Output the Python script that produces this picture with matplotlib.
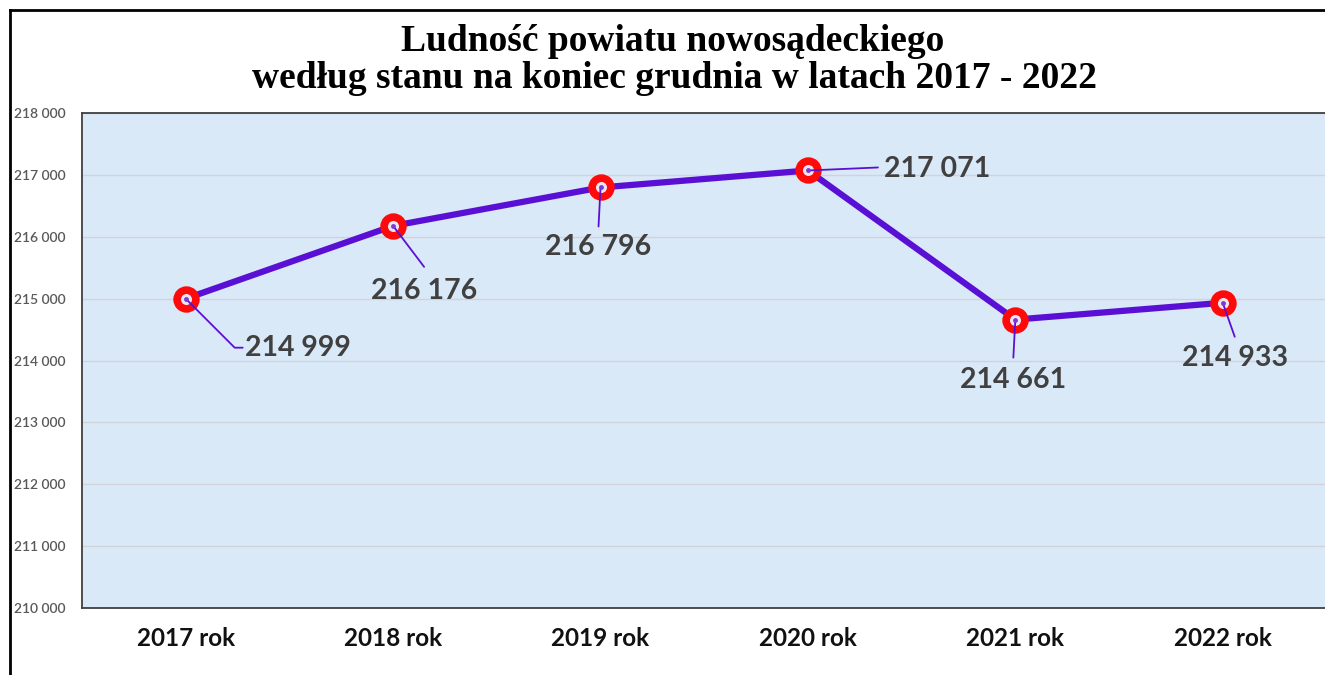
import matplotlib
matplotlib.use("Agg")
import matplotlib.pyplot as plt
from matplotlib.lines import Line2D
from matplotlib.ticker import FuncFormatter

# ---- data ----
categories = ["2017 rok", "2018 rok", "2019 rok", "2020 rok", "2021 rok", "2022 rok"]
population = [214999, 216176, 216796, 217071, 214661, 214933]
title_lines = ["Ludność powiatu nowosądeckiego",
               "według stanu na koniec grudnia w latach 2017 - 2022"]
y_ticks = [210000, 211000, 212000, 213000, 214000, 215000, 216000, 217000, 218000]

# ---- layout of data labels (pixel offsets from point) ----
leader_ends = [(57, -49), (31, -41), (-2, -39), (70, 3), (-2, -38), (12, -34)]
text_offsets = [(59, -49), (31, -65), (-2, -60), (76, 1), (-2, -60), (12, -55)]
text_ha = ["left", "center", "center", "left", "center", "center"]

W, H = 1325, 675
fig = plt.figure(figsize=(W / 100, H / 100), dpi=100)
fig.patch.set_facecolor("white")

ax = fig.add_axes([82 / W, 1 - 608 / H, (W - 82) / W, (608 - 113) / H])
ax.set_facecolor("#DAE9F8")

x = list(range(len(categories)))
ax.plot(x, population, color="#5A10D4", lw=4.5, zorder=3, solid_capstyle="round")
ax.plot(x, population, ls="none", marker="o", ms=13.5, mew=5.5,
        mec="#FF0A0A", mfc="#ECE4F2", zorder=4)
ax.plot(x, population, ls="none", marker="o", ms=3.5, mew=0,
        mfc="#7A3AD8", zorder=5)

def fmt(v):
    return f"{int(v):,}".replace(",", " ")

for i, (xi, yi) in enumerate(zip(x, population)):
    le = leader_ends[i]
    if i == 0:
        ax.annotate("", xy=(xi, yi), xytext=le, textcoords="offset pixels",
                    arrowprops=dict(arrowstyle="-", color="#5A10D4", lw=1.3,
                                    shrinkA=0, shrinkB=0,
                                    connectionstyle="angle,angleA=0,angleB=-45,rad=0"),
                    zorder=4)
    else:
        ax.annotate("", xy=(xi, yi), xytext=le, textcoords="offset pixels",
                    arrowprops=dict(arrowstyle="-", color="#5A10D4", lw=1.3,
                                    shrinkA=0, shrinkB=0),
                    zorder=4)
    ax.annotate(fmt(yi), xy=(xi, yi), xytext=text_offsets[i],
                textcoords="offset pixels", ha=text_ha[i], va="center",
                fontsize=20.5, fontweight="bold", family="Lato", color="#404040",
                zorder=6)

ax.set_xlim(-0.5, 5.493)
ax.set_ylim(210000, 218000)
ax.set_yticks(y_ticks)
ax.yaxis.set_major_formatter(FuncFormatter(lambda v, p: fmt(v)))
ax.set_xticks(x)
ax.set_xticklabels(categories)
ax.grid(axis="y", color="#D2D2DA", lw=1.0, zorder=1)
ax.set_axisbelow(True)
ax.tick_params(axis="y", length=0, pad=12, labelsize=10, labelcolor="#595959")
ax.tick_params(axis="x", length=0, pad=14, labelsize=17.5, labelcolor="#111111")
for lab in ax.get_yticklabels():
    lab.set_family("Lato")
    lab.set_fontweight("semibold")
for lab in ax.get_xticklabels():
    lab.set_family("Lato")
    lab.set_fontweight("bold")
for s in ["left", "bottom", "top"]:
    ax.spines[s].set_color("#404040")
    ax.spines[s].set_linewidth(1.3)
ax.spines["right"].set_visible(False)

# title
fig.text(673 / W, 1 - 51 / H, title_lines[0], ha="center", va="baseline",
         family="Liberation Serif", fontweight="bold", fontsize=27, color="black")
fig.text(675 / W, 1 - 88 / H, title_lines[1], ha="center", va="baseline",
         family="Liberation Serif", fontweight="bold", fontsize=27, color="black")

# figure frame (partially cut)
fig.add_artist(Line2D([10.5 / W, 10.5 / W], [0, 1 - 10 / H], color="black", lw=2,
                      transform=fig.transFigure))
fig.add_artist(Line2D([10 / W, 1], [1 - 10 / H, 1 - 10 / H], color="black", lw=2,
                      transform=fig.transFigure))

fig.savefig("out.png", dpi=100)
